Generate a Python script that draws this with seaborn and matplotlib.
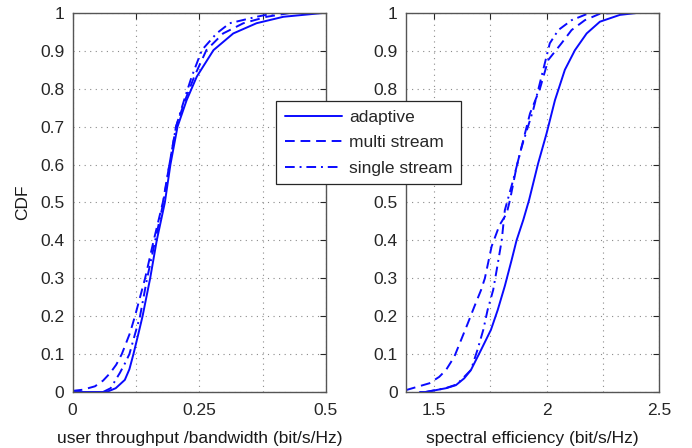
import numpy as np
import pandas as pd
import seaborn as sns
import matplotlib.pyplot as plt
from matplotlib.lines import Line2D

sns.set_style('white')
plt.rcParams['font.family'] = ['Liberation Sans', 'DejaVu Sans']

schemes = ['adaptive', 'multi stream', 'single stream']

# Left panel: user throughput / bandwidth
tp_adaptive_x = [0, 0.067, 0.085, 0.103, 0.112, 0.120, 0.130, 0.138, 0.153, 0.166, 0.182, 0.193,
                 0.207, 0.225, 0.245, 0.278, 0.317, 0.363, 0.416, 0.494, 0.5]
tp_adaptive_c = [0, 0, 0.01, 0.032, 0.06, 0.1, 0.155, 0.2, 0.3, 0.4, 0.5, 0.6,
                 0.7, 0.77, 0.832, 0.902, 0.946, 0.973, 0.99, 1.0, 1.0]
tp_multi_x = [0, 0.02, 0.044, 0.060, 0.074, 0.086, 0.097, 0.113, 0.123, 0.143, 0.160, 0.178,
              0.191, 0.204, 0.222, 0.24, 0.264, 0.297, 0.337, 0.383, 0.429]
tp_multi_c = [0.003, 0.006, 0.015, 0.03, 0.05, 0.072, 0.1, 0.155, 0.2, 0.3, 0.4, 0.5,
              0.6, 0.7, 0.77, 0.832, 0.902, 0.946, 0.973, 0.99, 1.0]
tp_single_x = [0.06, 0.075, 0.093, 0.103, 0.112, 0.133, 0.147, 0.163, 0.179, 0.191, 0.204,
               0.220, 0.235, 0.255, 0.284, 0.31, 0.363, 0.40]
tp_single_c = [0, 0.01, 0.05, 0.075, 0.1, 0.2, 0.3, 0.4, 0.5, 0.6, 0.7,
               0.77, 0.832, 0.902, 0.946, 0.973, 0.99, 1.0]

# Right panel: spectral efficiency
se_adaptive_x = [1.436, 1.463, 1.552, 1.596, 1.633, 1.663, 1.708, 1.752, 1.782, 1.814, 1.844, 1.866,
                 1.896, 1.922, 1.962, 2.0, 2.037, 2.081, 2.126, 2.178, 2.237, 2.326, 2.40]
se_adaptive_c = [0, 0, 0.01, 0.018, 0.036, 0.058, 0.111, 0.164, 0.216, 0.28, 0.348, 0.4,
                 0.454, 0.507, 0.603, 0.683, 0.77, 0.85, 0.902, 0.946, 0.977, 0.995, 1.0]
se_multi_x = [1.374, 1.478, 1.522, 1.552, 1.589, 1.619, 1.649, 1.678, 1.708, 1.725, 1.755, 1.79,
              1.822, 1.837, 1.866, 1.926, 1.97, 2.007, 2.066, 2.111, 2.170, 2.237, 2.30]
se_multi_c = [0.005, 0.023, 0.04, 0.058, 0.093, 0.137, 0.181, 0.225, 0.269, 0.3, 0.384, 0.44,
              0.471, 0.507, 0.594, 0.735, 0.8, 0.876, 0.92, 0.955, 0.981, 0.998, 1.0]
se_single_x = [1.46, 1.55, 1.60, 1.663, 1.692, 1.718, 1.737, 1.762, 1.78, 1.80, 1.814, 1.851,
               1.889, 1.940, 1.977, 2.014, 2.052, 2.111, 2.178, 2.20]
se_single_c = [0, 0.01, 0.02, 0.058, 0.111, 0.164, 0.216, 0.269, 0.33, 0.4, 0.48, 0.559,
               0.647, 0.744, 0.832, 0.92, 0.955, 0.981, 0.997, 1.0]

y_ticks = [0, 0.1, 0.2, 0.3, 0.4, 0.5, 0.6, 0.7, 0.8, 0.9, 1]
y_ticklabels = ['0', '0.1', '0.2', '0.3', '0.4', '0.5', '0.6', '0.7', '0.8', '0.9', '1']
# on the right panel the 0.6 / 0.7 labels sit hidden behind the legend
y_ticklabels_right = ['0', '0.1', '0.2', '0.3', '0.4', '0.5', '', '', '0.8', '0.9', '1']
tp_ticks = [0, 0.125, 0.25, 0.375, 0.5]
tp_ticklabels = ['0', '', '0.25', '', '0.5']
se_ticks = [1.5, 1.75, 2, 2.25, 2.5]
se_ticklabels = ['1.5', '', '2', '', '2.5']


def frame(xs, cs, name):
    return pd.DataFrame({'x': xs, 'cdf': cs, 'scheme': name})


df_tp = pd.concat([frame(tp_adaptive_x, tp_adaptive_c, schemes[0]),
                   frame(tp_multi_x, tp_multi_c, schemes[1]),
                   frame(tp_single_x, tp_single_c, schemes[2])], ignore_index=True)
df_se = pd.concat([frame(se_adaptive_x, se_adaptive_c, schemes[0]),
                   frame(se_multi_x, se_multi_c, schemes[1]),
                   frame(se_single_x, se_single_c, schemes[2])], ignore_index=True)

blue = '#0a0aff'
palette = {s: blue for s in schemes}
dashes = {schemes[0]: '', schemes[1]: (5, 3), schemes[2]: (5, 2.5, 1, 2.5)}
FS = 12.5

fig = plt.figure(figsize=(6.92, 4.48), dpi=100)
ax1 = fig.add_axes([0.105, 0.125, 0.366, 0.846])
ax2 = fig.add_axes([0.5867, 0.125, 0.3656, 0.846])

for ax, df, ticks, tlabels, ylabels, xlim, xlabel in [
        (ax1, df_tp, tp_ticks, tp_ticklabels, y_ticklabels, (0, 0.5),
         'user throughput /bandwidth (bit/s/Hz)'),
        (ax2, df_se, se_ticks, se_ticklabels, y_ticklabels_right, (1.374, 2.5),
         'spectral efficiency (bit/s/Hz)')]:
    sns.lineplot(data=df, x='x', y='cdf', hue='scheme', style='scheme', palette=palette,
                 dashes=dashes, sort=False, estimator=None,
                 linewidth=1.4, ax=ax, legend=False)
    ax.set_xlim(*xlim)
    ax.set_ylim(0, 1)
    ax.set_xticks(ticks)
    ax.set_xticklabels(tlabels)
    ax.set_yticks(y_ticks)
    ax.set_yticklabels(ylabels)
    ax.grid(True, color='#8a8a8a', linestyle=(0, (1, 4)), linewidth=0.8)
    ax.tick_params(direction='in', length=4, width=0.8, top=True, right=True,
                   labelsize=FS, colors='#262626')
    ax.tick_params(axis='x', pad=8)
    ax.tick_params(axis='y', pad=6)
    for sp in ax.spines.values():
        sp.set_color('#555555')
        sp.set_linewidth(1.0)
    ax.set_xlabel(xlabel, fontsize=FS, color='#1a1a1a', labelpad=9)
    ax.set_ylabel('')

ax1.set_ylabel('CDF', fontsize=FS, color='#1a1a1a', labelpad=7)

handles = [Line2D([], [], color=blue, lw=1.4, linestyle='-'),
           Line2D([], [], color=blue, lw=1.4, dashes=(5, 3)),
           Line2D([], [], color=blue, lw=1.4, dashes=(5, 2.5, 1, 2.5))]
leg = fig.legend(handles, schemes, loc='upper left', bbox_to_anchor=(0.399, 0.775),
                 fontsize=FS, handlelength=3.3, handletextpad=0.4, labelspacing=0.6,
                 borderpad=0.5, borderaxespad=0, fancybox=False, framealpha=1,
                 edgecolor='#262626')
leg.get_frame().set_linewidth(0.9)

fig.savefig('out.png', dpi=100)
